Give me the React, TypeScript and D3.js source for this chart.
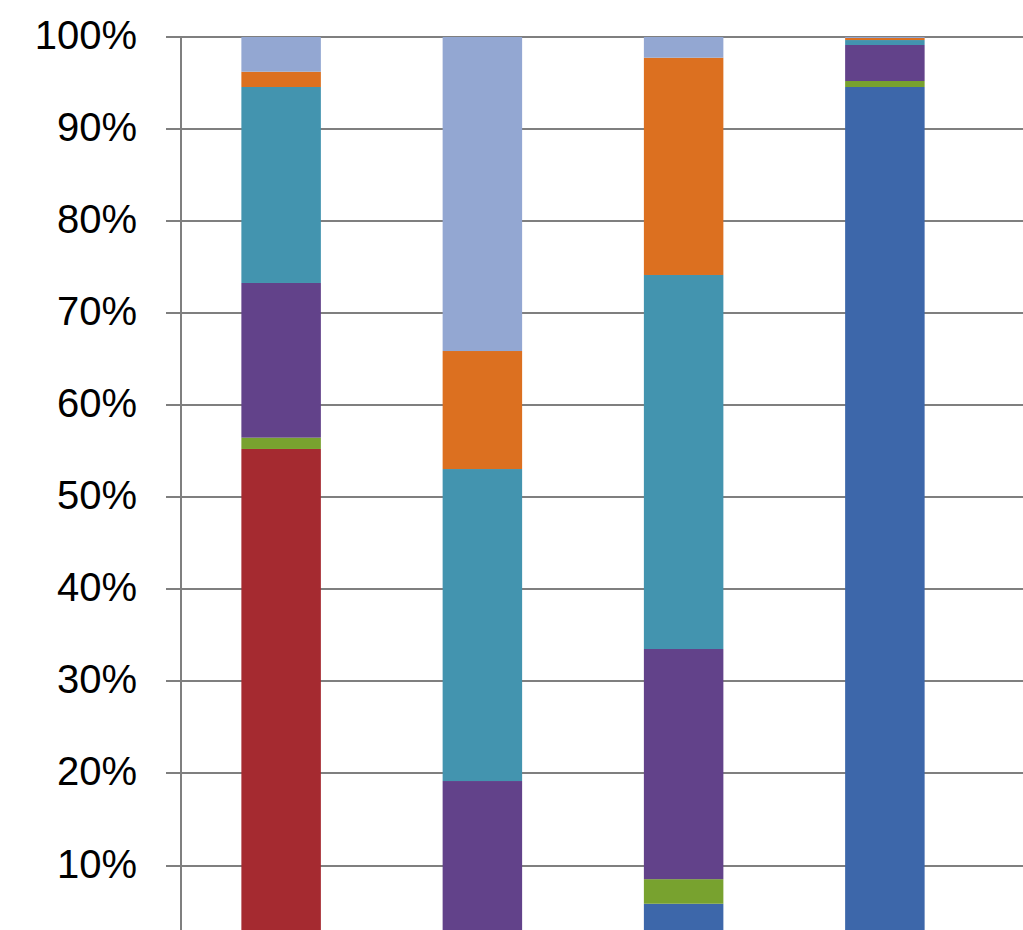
import React from "react";
import * as d3 from "d3";

const categories = ["A", "B", "C", "D"];
const seriesNames = ["blue", "red", "green", "purple", "teal", "orange", "lightBlue"];
const blue = [0, 0, 5.85, 94.57];
const red = [55.25, 0, 0, 0];
const green = [1.23, 0, 2.67, 0.65];
const purple = [16.8, 19.18, 25.0, 3.91];
const teal = [21.29, 33.89, 40.63, 0.54];
const orange = [1.66, 12.82, 23.6, 0.22];
const lightBlue = [3.77, 34.11, 2.25, 0.11];
const colors = ["#3D67AA", "#A52A30", "#78A22F", "#62428A", "#4394AF", "#DC7020", "#93A7D2"];
const tickValues = [10, 20, 30, 40, 50, 60, 70, 80, 90, 100];

export default function App() {
  const W = 1023, H = 930;
  const seriesVals = [blue, red, green, purple, teal, orange, lightBlue];
  const rows = categories.map((c, i) => {
    const r: any = { cat: c };
    seriesNames.forEach((s, j) => (r[s] = seriesVals[j][i]));
    return r;
  });
  const stacked = d3.stack().keys(seriesNames).offset(d3.stackOffsetExpand)(rows);
  const y = d3.scaleLinear().domain([0, 1]).range([37 + 920.6, 37]);
  const x = d3.scaleBand().domain(categories).range([181, 985]).paddingInner(0.605).paddingOuter(0.3);
  const axisX = 181;
  return (
    <svg width={W} height={H} style={{ position: "absolute", left: 0, top: 0, background: "#fff" }}>
      {tickValues.map((t) => (
        <line key={"g" + t} x1={166} x2={W} y1={Math.round(y(t / 100))} y2={Math.round(y(t / 100))} stroke="#7f7f7f" strokeWidth={2} />
      ))}
      <line x1={axisX} x2={axisX} y1={y(1) - 1} y2={H} stroke="#7f7f7f" strokeWidth={2} />
      {stacked.map((s, si) => (
        <g key={s.key} fill={colors[si]}>
          {s.map((d, i) => {
            const h = y(d[0]) - y(d[1]);
            if (h <= 0) return null;
            return <rect key={i} x={x(categories[i])} width={x.bandwidth()} y={y(d[1])} height={h} />;
          })}
        </g>
      ))}
      {tickValues.map((t) => (
        <text
          key={"t" + t}
          x={137}
          y={y(t / 100) + 12}
          textAnchor="end"
          fontFamily="'Liberation Sans', Arial, sans-serif"
          fontSize={40}
          fill="#000"
        >
          {t + "%"}
        </text>
      ))}
    </svg>
  );
}
